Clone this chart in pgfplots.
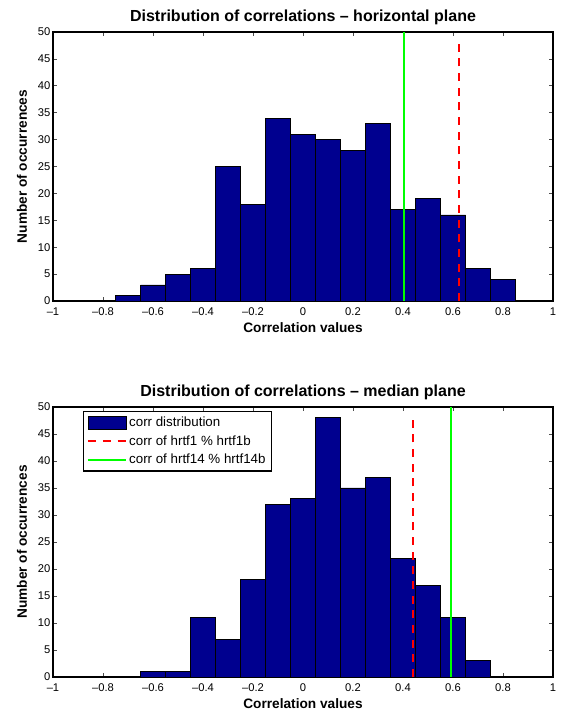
\documentclass[border=0pt]{standalone}
\usepackage{pgfplots}
\pgfplotsset{compat=1.18}
\usepackage{fontspec}
\setmainfont{Liberation Sans}
\definecolor{barblue}{RGB}{0,0,143}
\definecolor{mgreen}{RGB}{0,255,0}
\definecolor{mred}{RGB}{255,0,0}
\pgfplotsset{
  mstyle/.style={
    scale only axis,
    width=375pt,
    xmin=-1, xmax=1, ymin=0, ymax=50,
    xtick={-1,-0.8,-0.6,-0.4,-0.2,0,0.2,0.4,0.6,0.8,1},
    xticklabels={\textendash1,\textendash0.8,\textendash0.6,\textendash0.4,\textendash0.2,0,0.2,0.4,0.6,0.8,1},
    ytick={0,5,...,50},
    tick align=inside,
    xtick pos=both, ytick pos=both,
    major tick length=3pt,
    tick style={black!70, line width=0.5pt},
    axis line style={black, line width=0.8pt},
    ticklabel style={font=\fontsize{8.4pt}{9pt}\selectfont},
    /pgf/number format/assume math mode=true,
    xticklabel style={yshift=-1.5pt},
    yticklabel style={xshift=1.5pt},
    xlabel style={font=\fontsize{10.25pt}{11pt}\selectfont\bfseries, at={(axis description cs:0.5,-0.1)}, anchor=center},
    ylabel style={font=\fontsize{10.25pt}{11pt}\selectfont\bfseries, at={(axis description cs:-0.062,0.5)}, anchor=center, rotate=0},
    title style={font=\fontsize{12pt}{13pt}\selectfont\bfseries, at={(axis description cs:0.5,1.063)}, anchor=center, yshift=-7.5pt},
    xlabel={Correlation values},
    ylabel={Number of occurrences},
    clip=false,
  },
  redline/.style={mred, line width=1.5pt, dash pattern=on 6pt off 5pt},
  greenline/.style={mgreen, line width=1.5pt},
  lineleg/.style={legend image code/.code={\draw[##1] (0pt,0pt) -- (28.5pt,0pt);}},
  barleg/.style={legend image code/.code={\draw[fill=barblue, draw=black, line width=0.6pt] (0pt,-4.8pt) rectangle (28.5pt,4.8pt);}},
}
\begin{document}
\begin{tikzpicture}
\useasboundingbox (0pt,0pt) rectangle (420pt,534.75pt);
\begin{axis}[mstyle, at={(39.75pt,309pt)}, anchor=south west, height=201.75pt,
  title={Distribution of correlations \textendash\ horizontal plane}]
\addplot[ybar, bar width=0.1, bar shift=0pt, fill=barblue, draw=black, line width=0.5pt] coordinates {
(-0.7,1) (-0.6,3) (-0.5,5) (-0.4,6) (-0.3,25) (-0.2,18) (-0.1,34) (0,31)
(0.1,30) (0.2,28) (0.3,33) (0.4,17) (0.5,19) (0.6,16) (0.7,6) (0.8,4)};
\addplot[redline] coordinates {(0.625,0) (0.625,49)};
\addplot[greenline] coordinates {(0.405,0) (0.405,50)};
\end{axis}
\begin{axis}[mstyle, at={(39.75pt,27pt)}, anchor=south west, height=202.5pt,
  title={Distribution of correlations \textendash\ median plane},
  xlabel style={at={(axis description cs:0.5,-0.099)}},
  legend style={at={(axis description cs:0.059,0.986)}, anchor=north west, draw=black, line width=1pt,
    font=\fontsize{10pt}{11pt}\selectfont, row sep=1.2pt, inner xsep=3pt, inner ysep=2pt,
    cells={anchor=west}, nodes={inner xsep=1.5pt}},
]
\addplot[ybar, bar width=0.1, bar shift=0pt, fill=barblue, draw=black, line width=0.5pt, barleg] coordinates {
(-0.6,1) (-0.5,1) (-0.4,11) (-0.3,7) (-0.2,18) (-0.1,32) (0,33) (0.1,48)
(0.2,35) (0.3,37) (0.4,22) (0.5,17) (0.6,11) (0.7,3)};
\addlegendentry{corr distribution}
\addplot[redline, lineleg] coordinates {(0.441,0) (0.441,48.8)};
\addlegendentry{corr of hrtf1 \% hrtf1b}
\addplot[greenline, lineleg] coordinates {(0.592,0) (0.592,50)};
\addlegendentry{corr of hrtf14 \% hrtf14b}
\end{axis}
\end{tikzpicture}
\end{document}
